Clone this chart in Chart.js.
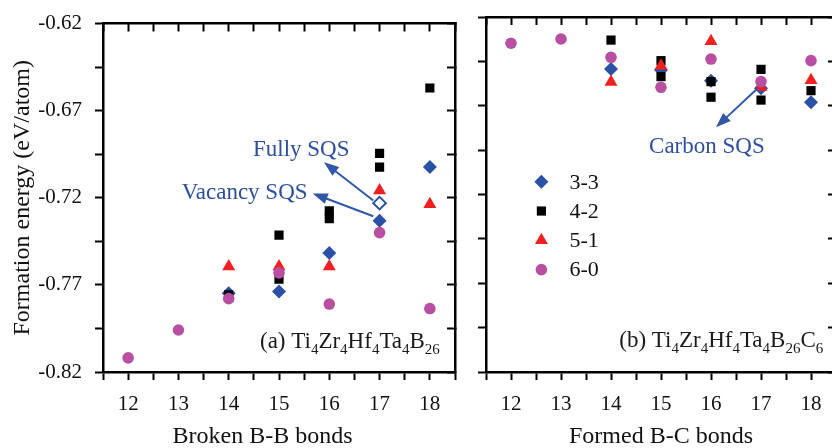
<!DOCTYPE html>
<html>
<head>
<meta charset="utf-8">
<script src="https://cdn.jsdelivr.net/npm/chart.js@4.4.1/dist/chart.umd.min.js"></script>
<style>
  html, body { margin: 0; padding: 0; background: #fff; overflow: hidden; width: 832px; height: 448px; }
  #wrap { position: relative; width: 832px; height: 448px; overflow: hidden; }
  canvas { position: absolute; top: 0; }
  #panelA { left: 0; }
  #panelB { left: 470px; }
</style>
</head>
<body>
<div id="wrap">
  <canvas id="panelA" width="470" height="448"></canvas>
  <canvas id="panelB" width="380" height="448"></canvas>
</div>
<script>
// ---- tick labels ----
const xTickLabels = ['12', '13', '14', '15', '16', '17', '18'];
const yTickLabels = ['-0.82', '-0.77', '-0.72', '-0.67', '-0.62'];
const seriesNames = ['3-3', '4-2', '5-1', '6-0'];

// ---- (a) Ti4Zr4Hf4Ta4B26 : formation energy vs broken B-B bonds ----
const a33x = [14, 15, 16, 17, 18];
const a33y = [-0.7748, -0.7738, -0.7517, -0.7332, -0.7024];
const aFullyX = [17];
const aFullyY = [-0.7231];
const a42x = [14, 15, 15, 16, 16, 17, 17, 18];
const a42y = [-0.7757, -0.7415, -0.7667, -0.7275, -0.7320, -0.6945, -0.7024, -0.6570];
const a51x = [14, 15, 16, 17, 18];
const a51y = [-0.7595, -0.7595, -0.7595, -0.7159, -0.7238];
const a60x = [12, 13, 14, 15, 16, 17, 18];
const a60y = [-0.8119, -0.7959, -0.7779, -0.7631, -0.7810, -0.7400, -0.7836];

// ---- (b) Ti4Zr4Hf4Ta4B26C6 : formation energy vs formed B-C bonds ----
const b33x = [14, 15, 16, 17, 18];
const b33y = [-0.6493, -0.6499, -0.6559, -0.6602, -0.6680];
const b42x = [14, 15, 15, 16, 16, 17, 17, 18];
const b42y = [-0.6330, -0.6446, -0.6536, -0.6564, -0.6652, -0.6495, -0.6668, -0.6615];
const b51x = [14, 15, 16, 17, 18];
const b51y = [-0.6566, -0.6475, -0.6336, -0.6594, -0.6556];
const b60x = [12, 13, 14, 15, 16, 17, 18];
const b60y = [-0.6348, -0.6324, -0.6427, -0.6596, -0.6437, -0.6564, -0.6446];

// ---- styling ----
const SERIF = '"Liberation Serif", "Times New Roman", serif';
const BLUE_TEXT = '#2e4f9f';
const BLUE_ARROW = '#3057a8';
const STYLE = {
  '3-3': { pointStyle: 'rectRot', radius: 7, color: '#2a51a6' },
  '4-2': { pointStyle: 'rect', radius: 6.5, color: '#000000' },
  '5-1': { pointStyle: 'triangle', radius: 7.5, color: '#f02020' },
  '6-0': { pointStyle: 'circle', radius: 5.8, color: '#b84fa3' }
};

// tick positions: labelled majors plus unlabelled half-step minors
const xMajor = xTickLabels.map(Number);
const xTickValues = [xMajor[0] - 0.5];
xMajor.forEach(v => { xTickValues.push(v, v + 0.5); });
const yMajor = yTickLabels.map(Number);
const yTickValues = [];
yMajor.forEach((v, i) => {
  yTickValues.push(v);
  if (i < yMajor.length - 1) yTickValues.push((v + yMajor[i + 1]) / 2);
});
const X_MIN = xTickValues[0], X_MAX = xTickValues[xTickValues.length - 1];
const Y_MIN = yMajor[0], Y_MAX = yMajor[yMajor.length - 1];

function xLabel(v) {
  const i = xMajor.findIndex(m => Math.abs(m - v) < 1e-9);
  return i >= 0 ? xTickLabels[i] : '';
}
function yLabel(v) {
  const i = yMajor.findIndex(m => Math.abs(m - v) < 1e-9);
  return i >= 0 ? yTickLabels[i] : '';
}

function points(xs, ys) { return xs.map((x, i) => ({ x: x, y: ys[i] })); }
function series(name, xs, ys, order) {
  const s = STYLE[name];
  return {
    label: name, data: points(xs, ys), order: order, showLine: false,
    pointStyle: s.pointStyle, pointRadius: s.radius, pointHoverRadius: s.radius,
    backgroundColor: s.color, borderColor: s.color, borderWidth: 0
  };
}

const tickFont = { family: SERIF, size: 21, lineHeight: 1 };
const frame = { display: true, width: 2.5, color: '#000' };
function tickGrid(len) {
  return { display: true, drawOnChartArea: false, drawTicks: true, tickLength: len, tickWidth: 2, tickColor: '#000' };
}

function makeScales(leftWidth, rightWidth, withYLabels) {
  return {
    x: {
      type: 'linear', position: 'bottom', min: X_MIN, max: X_MAX,
      afterBuildTicks: s => { s.ticks = xTickValues.map(v => ({ value: v })); },
      ticks: { autoSkip: false, maxRotation: 0, padding: 14, color: '#111', font: tickFont, callback: v => xLabel(v) },
      grid: tickGrid(8), border: frame,
      afterFit: s => { s.height = 76; }
    },
    x2: {
      type: 'linear', position: 'top', min: X_MIN, max: X_MAX,
      afterBuildTicks: s => { s.ticks = xTickValues.map(v => ({ value: v })); },
      ticks: { display: false },
      grid: tickGrid(-8), border: frame,
      afterFit: s => { s.height = 17; }
    },
    y: {
      type: 'linear', position: 'left', min: Y_MIN, max: Y_MAX,
      afterBuildTicks: s => { s.ticks = yTickValues.map(v => ({ value: v })); },
      ticks: { display: withYLabels, padding: 13, color: '#111', font: tickFont, callback: v => yLabel(v) },
      grid: tickGrid(8), border: frame,
      title: {
        display: withYLabels, text: 'Formation energy (eV/atom)', color: '#111',
        font: { family: SERIF, size: 24, lineHeight: 1 }, padding: { top: 11, bottom: 0 }
      },
      afterFit: s => { s.width = leftWidth; }
    },
    y2: {
      type: 'linear', position: 'right', min: Y_MIN, max: Y_MAX,
      afterBuildTicks: s => { s.ticks = yTickValues.map(v => ({ value: v })); },
      ticks: { display: false },
      grid: tickGrid(-8), border: frame,
      afterFit: s => { s.width = rightWidth; }
    }
  };
}

// ---- overlay drawing helpers ----
function drawArrow(ctx, x1, y1, x2, y2) {
  const ang = Math.atan2(y2 - y1, x2 - x1);
  const head = 15, half = 5.5;
  const bx = x2 - Math.cos(ang) * head, by = y2 - Math.sin(ang) * head;
  ctx.strokeStyle = BLUE_ARROW;
  ctx.fillStyle = BLUE_ARROW;
  ctx.lineWidth = 2;
  ctx.beginPath();
  ctx.moveTo(x1, y1);
  ctx.lineTo(bx + Math.cos(ang) * 2, by + Math.sin(ang) * 2);
  ctx.stroke();
  ctx.beginPath();
  ctx.moveTo(x2, y2);
  ctx.lineTo(bx + Math.sin(ang) * half, by - Math.cos(ang) * half);
  ctx.lineTo(bx - Math.sin(ang) * half, by + Math.cos(ang) * half);
  ctx.closePath();
  ctx.fill();
}

// chemical formula: pieces alternate normal text and subscripts
function drawFormula(ctx, x, y, parts) {
  let cx = x;
  ctx.fillStyle = '#1a1a1a';
  ctx.textAlign = 'left';
  ctx.textBaseline = 'alphabetic';
  parts.forEach(([t, sub]) => {
    ctx.font = (sub ? 15 : 23) + 'px ' + SERIF;
    ctx.fillText(t, cx, sub ? y + 6 : y);
    cx += ctx.measureText(t).width;
  });
}

function overlayPlugin(cfg) {
  return {
    id: 'overlay',
    afterDraw(chart) {
      const { ctx, chartArea } = chart;
      const xs = chart.scales.x, ys = chart.scales.y;
      const px = v => xs.getPixelForValue(v);
      const py = v => ys.getPixelForValue(v);
      ctx.save();

      (cfg.arrows || []).forEach(a => drawArrow(ctx, px(a.from[0]), py(a.from[1]), px(a.to[0]), py(a.to[1])));

      ctx.font = '23px ' + SERIF;
      ctx.fillStyle = BLUE_TEXT;
      ctx.textAlign = 'left';
      ctx.textBaseline = 'alphabetic';
      (cfg.notes || []).forEach(n => ctx.fillText(n.text, px(n.x), py(n.y)));

      drawFormula(ctx, px(cfg.formula.x), py(cfg.formula.y), cfg.formula.parts);

      if (cfg.legend) {
        const lx = px(cfg.legend.x), ly = py(cfg.legend.y);
        seriesNames.forEach((name, i) => {
          const s = STYLE[name];
          const yy = ly + i * cfg.legend.step;
          ctx.fillStyle = s.color;
          ctx.strokeStyle = s.color;
          Chart.helpers.drawPoint(ctx, { pointStyle: s.pointStyle, radius: s.radius, rotation: 0, borderWidth: 0 }, lx, yy);
          ctx.fillStyle = '#111';
          ctx.font = '22px ' + SERIF;
          ctx.textAlign = 'left';
          ctx.textBaseline = 'middle';
          ctx.fillText(name, lx + 28, yy + 1);
        });
      }

      ctx.font = '24px ' + SERIF;
      ctx.fillStyle = '#111';
      ctx.textAlign = 'center';
      ctx.textBaseline = 'alphabetic';
      ctx.fillText(cfg.xTitle.text, px(cfg.xTitle.x), chartArea.bottom + 71);
      ctx.restore();
    }
  };
}

function baseOptions(scales) {
  return {
    responsive: false, animation: false, events: [],
    layout: { padding: 0 },
    plugins: { legend: { display: false }, tooltip: { enabled: false } },
    scales: scales
  };
}

// ---- panel (a) ----
new Chart(document.getElementById('panelA'), {
  type: 'scatter',
  data: {
    datasets: [
      series('6-0', a60x, a60y, 1),
      series('5-1', a51x, a51y, 2),
      series('4-2', a42x, a42y, 3),
      {
        label: '3-3 fully SQS', data: points(aFullyX, aFullyY), order: 0, showLine: false,
        pointStyle: 'rectRot', pointRadius: 6.3, pointHoverRadius: 6.3,
        backgroundColor: '#ffffff', borderColor: STYLE['3-3'].color, borderWidth: 2
      },
      series('3-3', a33x, a33y, 4)
    ]
  },
  options: baseOptions(makeScales(103, 15, true)),
  plugins: [overlayPlugin({
    arrows: [
      { from: [16.875, -0.7216], to: [15.894, -0.6996] },
      { from: [16.875, -0.7306], to: [15.670, -0.7175] }
    ],
    notes: [
      { text: 'Fully SQS', x: 14.483, y: -0.6961 },
      { text: 'Vacancy SQS', x: 13.065, y: -0.7208 }
    ],
    formula: {
      x: 14.622, y: -0.8062,
      parts: [['(a) Ti', 0], ['4', 1], ['Zr', 0], ['4', 1], ['Hf', 0], ['4', 1], ['Ta', 0], ['4', 1], ['B', 0], ['26', 1]]
    },
    xTitle: { text: 'Broken B-B bonds', x: 14.672 }
  })]
});

// ---- panel (b) ----
new Chart(document.getElementById('panelB'), {
  type: 'scatter',
  data: {
    datasets: [
      series('6-0', b60x, b60y, 1),
      series('5-1', b51x, b51y, 2),
      series('4-2', b42x, b42y, 3),
      series('3-3', b33x, b33y, 4)
    ]
  },
  options: baseOptions(makeScales(16, 12, false)),
  plugins: [overlayPlugin({
    arrows: [
      { from: [16.934, -0.6602], to: [16.099, -0.6821] }
    ],
    notes: [
      { text: 'Carbon SQS', x: 14.761, y: -0.6968 }
    ],
    formula: {
      x: 14.165, y: -0.8059,
      parts: [['(b) Ti', 0], ['4', 1], ['Zr', 0], ['4', 1], ['Hf', 0], ['4', 1], ['Ta', 0], ['4', 1], ['B', 0], ['26', 1], ['C', 0], ['6', 1]]
    },
    legend: { x: 12.608, y: -0.7128, step: 29.3 },
    xTitle: { text: 'Formed B-C bonds', x: 15.0 }
  })]
});
</script>
</body>
</html>
